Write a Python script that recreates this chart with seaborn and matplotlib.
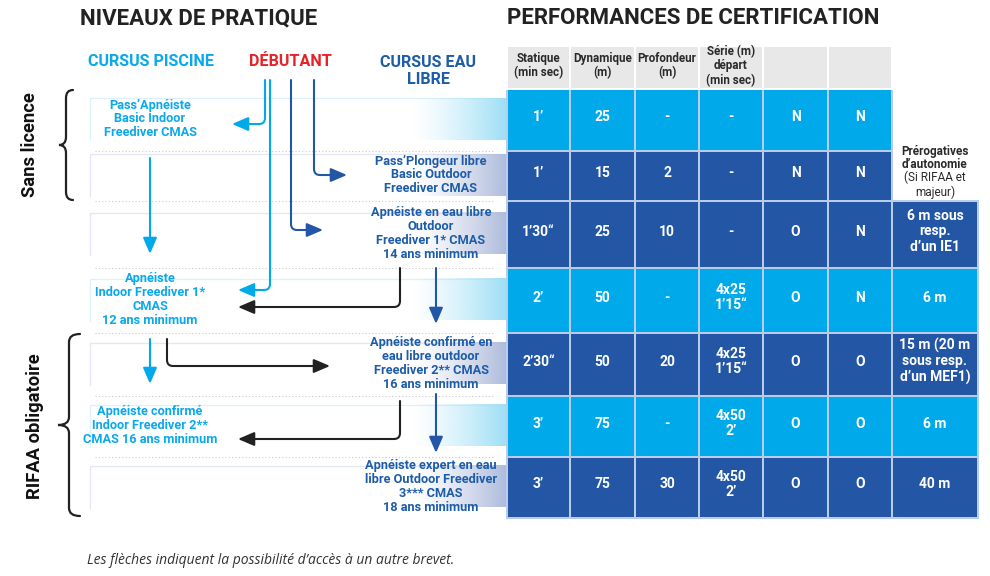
import numpy as np
import matplotlib
matplotlib.use("Agg")
from matplotlib import pyplot as plt
from matplotlib.path import Path
from matplotlib.patches import FancyArrowPatch, PathPatch
from matplotlib.colors import ListedColormap, to_rgb
import seaborn as sns

# ---------------------------------------------------------------- data
titles = ["NIVEAUX DE PRATIQUE", "PERFORMANCES DE CERTIFICATION"]
cursus_labels = ["CURSUS PISCINE", "DÉBUTANT", "CURSUS EAU\nLIBRE"]
groups = ["Sans licence", "RIFAA obligatoire"]

brevets = [
    "Pass’Apnéiste\nBasic Indoor\nFreediver CMAS",
    "Pass’Plongeur libre\nBasic Outdoor\nFreediver CMAS",
    "Apnéiste en eau libre\nOutdoor\nFreediver 1* CMAS\n14 ans minimum",
    "Apnéiste\nIndoor Freediver 1*\nCMAS\n12 ans minimum",
    "Apnéiste confirmé en\neau libre outdoor\nFreediver 2** CMAS\n16 ans minimum",
    "Apnéiste confirmé\nIndoor Freediver 2**\nCMAS 16 ans minimum",
    "Apnéiste expert en eau\nlibre Outdoor Freediver\n3*** CMAS\n18 ans minimum",
]
cursus = ["piscine", "libre", "libre", "piscine", "libre", "piscine", "libre"]

columns = ["Statique\n(min sec)", "Dynamique\n(m)", "Profondeur\n(m)",
           "Série (m)\ndépart\n(min sec)", "", ""]
statique = ["1’", "1’", "1’30“", "2’", "2’30“", "3’", "3’"]
dynamique = ["25", "15", "25", "50", "50", "75", "75"]
profondeur = ["-", "2", "10", "-", "20", "-", "30"]
serie = ["-", "-", "-", "4x25\n1’15“", "4x25\n1’15“", "4x50\n2’", "4x50\n2’"]
col5 = ["N", "N", "O", "O", "O", "O", "O"]
col6 = ["N", "N", "N", "N", "O", "O", "O"]
prerog_title = "Prérogatives\nd’autonomie"
prerog_note = "(Si RIFAA et\nmajeur)"
prerogatives = [None, None, "6 m sous\nresp.\nd’un IE1", "6 m",
                "15 m (20 m\nsous resp.\nd’un MEF1)", "6 m", "40 m"]
footnote = "Les flèches indiquent la possibilité d’accès à un autre brevet."

# ---------------------------------------------------------------- style / layout
sns.set_theme(style="white")
plt.rcParams['font.family'] = ['Roboto', 'DejaVu Sans']

LIGHT = "#00aaea"
DARK = "#2357a5"
TXT_LIGHT = "#0aa8ec"
TXT_DARK = "#1d5ca9"
GREY_HEAD = "#e8e8e8"
CELL_EDGE = "#b9cdeb"

col_edges = np.array([507, 570, 635, 699, 763, 828, 892, 978])
row_edges = np.array([89, 151, 201, 268, 333, 396, 457, 518])
head_edges = np.array([46, 89])
band_x0, grad_x0 = 90, 412
band_h = 42
text_x = {"piscine": 150, "libre": 431}

fig = plt.figure(figsize=(9.9, 5.76), dpi=100)
ax = fig.add_axes([0, 0, 1, 1])
ax.set_xlim(0, 990)
ax.set_ylim(576, 0)
ax.axis("off")

# titles
ax.text(80, 18, titles[0], fontsize=16, fontweight="bold", color="#222222", va="center")
ax.text(507, 18, titles[1], fontsize=16, fontweight="bold", color="#222222", va="center")
ax.text(151, 62, cursus_labels[0], fontsize=11.6, fontweight="bold", color=TXT_LIGHT,
        ha="center", va="center")
ax.text(290, 62, cursus_labels[1], fontsize=11.6, fontweight="bold", color="#e4242b",
        ha="center", va="center")
ax.text(428, 71, cursus_labels[2], fontsize=11.6, fontweight="bold", color=TXT_DARK,
        ha="center", va="center", linespacing=1.15)

# group labels + braces
ax.text(30, 145, groups[0], fontsize=13.2, fontweight="bold", rotation=90,
        ha="center", va="center", color="#111111")
ax.text(35, 426, groups[1], fontsize=13.2, fontweight="bold", rotation=90,
        ha="center", va="center", color="#111111")


def brace(x_end, x_spine, x_tip, y0, y1, r=8):
    ym = (y0 + y1) / 2
    verts = [(x_end, y0), (x_spine, y0), (x_spine, y0 + r),
             (x_spine, ym - r), (x_spine, ym), (x_tip, ym),
             (x_spine, ym), (x_spine, ym + r),
             (x_spine, y1 - r), (x_spine, y1), (x_end, y1)]
    codes = [Path.MOVETO, Path.CURVE3, Path.CURVE3,
             Path.LINETO, Path.CURVE3, Path.CURVE3,
             Path.CURVE3, Path.CURVE3,
             Path.LINETO, Path.CURVE3, Path.CURVE3]
    ax.add_patch(PathPatch(Path(verts, codes), fill=False, lw=1.6,
                           edgecolor="#222222", capstyle="round"))


brace(73, 66, 59, 90, 200)
brace(80, 69, 58, 334, 516)

# bands on the left of the table
for i, c in enumerate(cursus):
    yc = (row_edges[i] + row_edges[i + 1]) / 2 - 1
    top, bot = yc - band_h / 2, yc + band_h / 2
    end = np.array(to_rgb("#9ddff6" if c == "piscine" else "#aebbdc"))
    edge = "#dcf1fb" if c == "piscine" else "#e3e7f3"
    ax.plot([band_x0, col_edges[0]], [top, top], color=edge, lw=0.9, zorder=1)
    ax.plot([band_x0, band_x0], [top, bot], color=edge, lw=0.9, zorder=1)
    ramp = np.linspace(0, 1, 200) ** 1.3
    img = np.zeros((1, 200, 4))
    img[0, :, :3] = end
    img[0, :, 3] = ramp
    ax.imshow(img, extent=[grad_x0, col_edges[0], bot, top], aspect="auto",
              interpolation="bilinear", zorder=1)
    ax.text(text_x[c], yc, brevets[i], fontsize=9.2, fontweight="bold",
            color=TXT_LIGHT if c == "piscine" else TXT_DARK,
            ha="center", va="center", linespacing=1.1, zorder=3)

# dotted separators
for y in row_edges[1:-1]:
    ax.plot([95, 495], [y, y], color="#c9c9c9", lw=0.8, ls=(0, (1, 2)), zorder=1)

# ---------------------------------------------------------------- table
kind = np.array([[0 if c == "piscine" else 1] for c in cursus])
cmap = ListedColormap([LIGHT, DARK])
ax.pcolormesh(col_edges[:7], row_edges, np.repeat(kind, 6, axis=1), cmap=cmap,
              vmin=0, vmax=1, edgecolors=CELL_EDGE, linewidth=1.3, zorder=2)
ax.pcolormesh(col_edges[6:], row_edges[2:], kind[2:], cmap=cmap,
              vmin=0, vmax=1, edgecolors=CELL_EDGE, linewidth=1.3, zorder=2)
ax.pcolormesh(col_edges[:7], head_edges, np.zeros((1, 6)),
              cmap=ListedColormap([GREY_HEAD]), edgecolors="white",
              linewidth=1.3, zorder=2)

xc = (col_edges[:-1] + col_edges[1:]) / 2
yc = (row_edges[:-1] + row_edges[1:]) / 2 - 3
for j, lab in enumerate(columns):
    ax.text(xc[j], 66, lab, fontsize=8.4, fontweight="bold", color="#2a2a2a",
            ha="center", va="center", linespacing=1.1, zorder=3)

table_cols = [statique, dynamique, profondeur, serie, col5, col6, prerogatives]
for j, vals in enumerate(table_cols):
    for i, v in enumerate(vals):
        if v is None:
            continue
        ax.text(xc[j], yc[i], v, fontsize=10, fontweight="bold", color="white",
                ha="center", va="center", linespacing=1.15, zorder=3)

ax.text(xc[6], 158, prerog_title, fontsize=8.5, fontweight="bold", color="#2a2a2a",
        ha="center", va="center", linespacing=1.1)
ax.text(xc[6], 185, prerog_note, fontsize=8.5, color="#2a2a2a",
        ha="center", va="center", linespacing=1.1)


# ---------------------------------------------------------------- arrows
def arrow(pts, color, r=6):
    # pts: start, corner (optional), end
    if len(pts) == 2:
        verts = pts
        codes = [Path.MOVETO, Path.LINETO]
    else:
        (x0, y0), (xc_, yc_), (x1, y1) = pts
        sx = np.sign(x1 - xc_)
        sy = np.sign(yc_ - y0)
        verts = [(x0, y0), (xc_, yc_ - sy * r), (xc_, yc_), (xc_ + sx * r, yc_), (x1, y1)]
        codes = [Path.MOVETO, Path.LINETO, Path.CURVE3, Path.CURVE3, Path.LINETO]
    ax.add_patch(FancyArrowPatch(path=Path(verts, codes),
                                 arrowstyle="-|>,head_length=0.7,head_width=0.3",
                                 mutation_scale=14, color=color, lw=1.5, zorder=4))


BLACK = "#222222"
arrow([(265, 80), (265, 124), (232, 124)], LIGHT)
arrow([(270, 80), (270, 290), (238, 290)], LIGHT)
arrow([(291, 80), (291, 230), (323, 230)], DARK)
arrow([(314, 80), (314, 175), (347, 175)], DARK)
arrow([(150, 158), (150, 254)], LIGHT)
arrow([(400, 268), (400, 307), (238, 307)], BLACK)
arrow([(436, 268), (436, 324)], DARK)
arrow([(150, 339), (150, 384)], LIGHT)
arrow([(167, 339), (167, 366), (330, 366)], BLACK)
arrow([(436, 394), (436, 453)], DARK)
arrow([(400, 401), (400, 439), (238, 439)], BLACK)

ax.text(87, 560, footnote, fontsize=10, style="italic", color="#333333",
        family=["Open Sans", "DejaVu Sans"], va="center")

fig.savefig("out.png", dpi=100)
